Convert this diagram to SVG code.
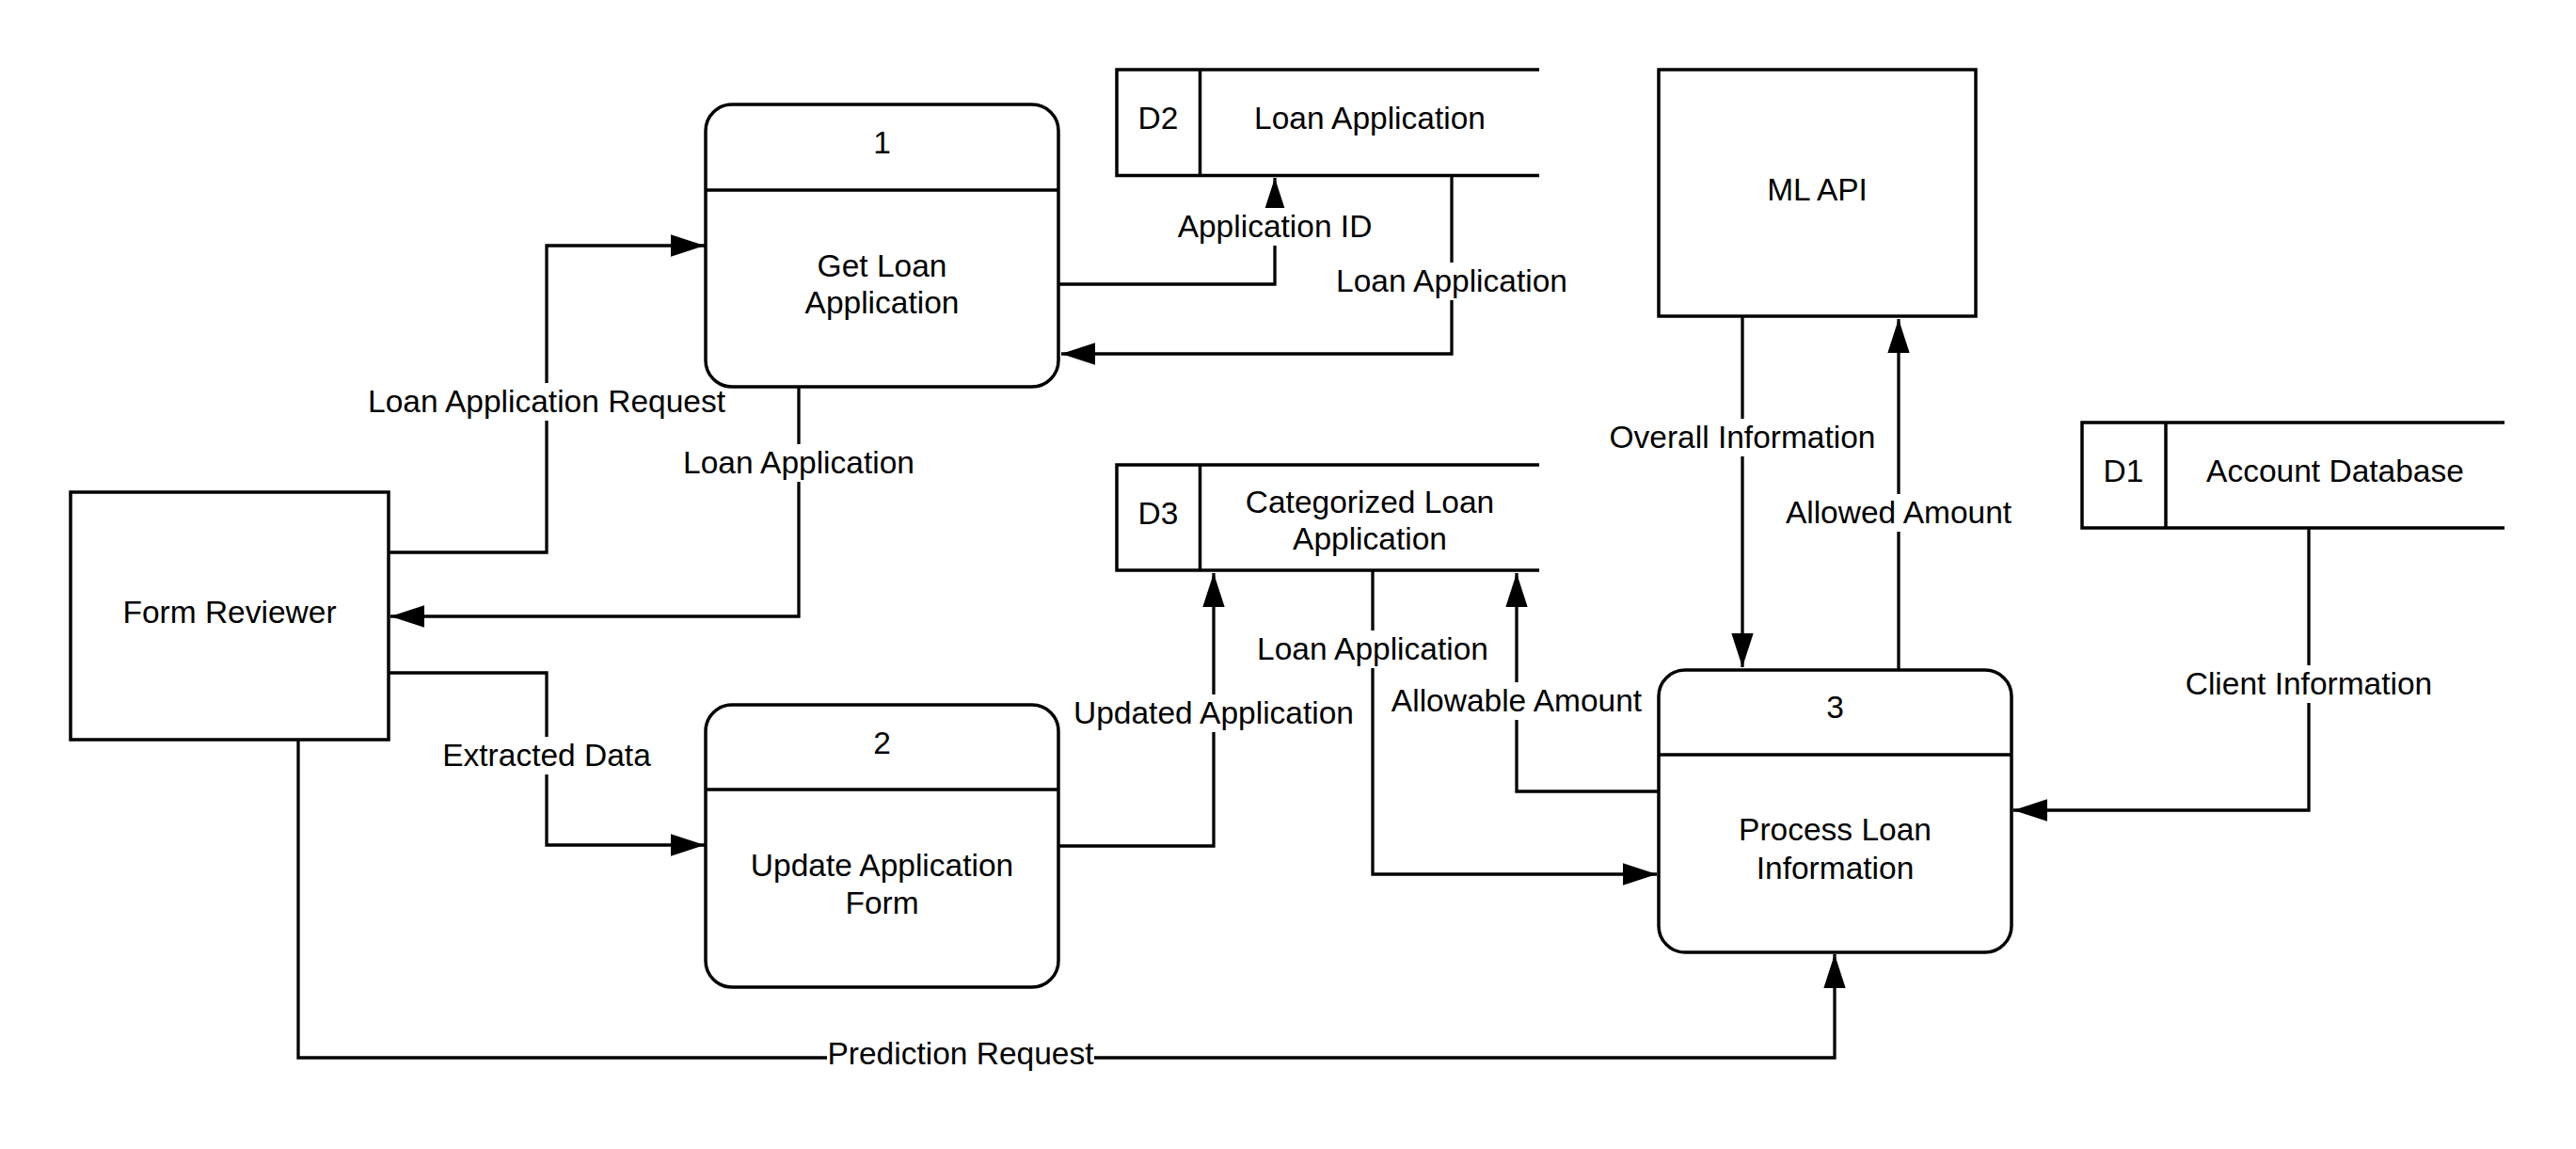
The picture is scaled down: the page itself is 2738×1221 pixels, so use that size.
<svg xmlns="http://www.w3.org/2000/svg" width="2738" height="1221" viewBox="0 0 2738 1221">
<style>
.box{fill:#fff;stroke:#000;stroke-width:3.5}
.ln{fill:none;stroke:#000;stroke-width:3.5}
.c{fill:none;stroke:#000;stroke-width:3.3}
text{font-family:"Liberation Sans",Arial,sans-serif;font-size:33.5px;fill:#000;text-anchor:middle}
.bg{fill:#fff;stroke:none}
</style>
<defs>
<marker id="arr" markerUnits="userSpaceOnUse" markerWidth="36" markerHeight="24" viewBox="0 0 34 22" refX="34" refY="11" orient="auto">
<path d="M0,0 L34,11 L0,22 Z" fill="#000"/>
</marker>
</defs>
<rect width="2738" height="1221" fill="#fff"/>

<g id="connectors">
<path class="c" d="M413 587 H581 V261 H749" marker-end="url(#arr)"/>
<path class="c" d="M849 411 V655 H415" marker-end="url(#arr)"/>
<path class="c" d="M1125 302 H1355 V189" marker-end="url(#arr)"/>
<path class="c" d="M1543 186 V376 H1128" marker-end="url(#arr)"/>
<path class="c" d="M1852 336 V709" marker-end="url(#arr)"/>
<path class="c" d="M2018 712 V339" marker-end="url(#arr)"/>
<path class="c" d="M2454 561 V861 H2140" marker-end="url(#arr)"/>
<path class="c" d="M413 715 H581 V898 H749" marker-end="url(#arr)"/>
<path class="c" d="M1125 899 H1290 V609" marker-end="url(#arr)"/>
<path class="c" d="M1459 606 V929 H1761" marker-end="url(#arr)"/>
<path class="c" d="M1763 841 H1612 V609" marker-end="url(#arr)"/>
<path class="c" d="M317 786 V1124 H1950 V1014" marker-end="url(#arr)"/>

<rect class="bg" x="389" y="407" width="384" height="40"/>
<text x="581" y="437.5">Loan Application Request</text>
<rect class="bg" x="724" y="472" width="250" height="40"/>
<text x="849" y="502.5">Loan Application</text>
<rect class="bg" x="1251" y="221" width="208" height="40"/>
<text x="1355" y="251.5">Application ID</text>
<rect class="bg" x="1418" y="279" width="250" height="40"/>
<text x="1543" y="309.5">Loan Application</text>
<rect class="bg" x="1710" y="445" width="284" height="40"/>
<text x="1852" y="475.5">Overall Information</text>
<rect class="bg" x="1896" y="525" width="244" height="40"/>
<text x="2018" y="555.5">Allowed Amount</text>
<rect class="bg" x="2322" y="707" width="264" height="40"/>
<text x="2454" y="737.5">Client Information</text>
<rect class="bg" x="1140" y="738" width="300" height="40"/>
<text x="1290" y="768.5">Updated Application</text>
<rect class="bg" x="1334" y="670" width="250" height="40"/>
<text x="1459" y="700.5">Loan Application</text>
<rect class="bg" x="1478" y="725" width="268" height="40"/>
<text x="1612" y="755.5">Allowable Amount</text>
<rect class="bg" x="470" y="783" width="222" height="40"/>
<text x="581" y="813.5">Extracted Data</text>
<rect class="bg" x="879" y="1100" width="284" height="40"/>
<text x="1021" y="1130.5">Prediction Request</text>
</g>

<g id="form-reviewer">
<rect class="box" x="75" y="523" width="338" height="263"/>
<text x="244" y="661.5">Form Reviewer</text>
</g>

<g id="process-1">
<rect class="box" x="750" y="111" width="375" height="300" rx="28"/>
<line class="ln" x1="750" y1="202" x2="1125" y2="202"/>
<text x="937.5" y="162.5">1</text>
<text x="937.5" y="293.5">Get Loan</text>
<text x="937.5" y="332.5">Application</text>
</g>

<g id="process-2">
<rect class="box" x="750" y="749" width="375" height="300" rx="28"/>
<line class="ln" x1="750" y1="839" x2="1125" y2="839"/>
<text x="937.5" y="800.5">2</text>
<text x="937.5" y="930.5">Update Application</text>
<text x="937.5" y="970.5">Form</text>
</g>

<g id="process-3">
<rect class="box" x="1763" y="712" width="375" height="300" rx="28"/>
<line class="ln" x1="1763" y1="802" x2="2138" y2="802"/>
<text x="1950.5" y="762.5">3</text>
<text x="1950.5" y="892.5">Process Loan</text>
<text x="1950.5" y="933.5">Information</text>
</g>

<g id="ml-api">
<rect class="box" x="1763" y="74" width="337" height="262"/>
<text x="1931.5" y="212.5">ML API</text>
</g>

<g id="store-d2">
<path class="ln" d="M1636 74 H1187 V186.5 H1636 M1275.5 74 V186.5"/>
<text x="1231" y="136.5">D2</text>
<text x="1456" y="136.5">Loan Application</text>
</g>

<g id="store-d3">
<path class="ln" d="M1636 494 H1187 V606 H1636 M1275.5 494 V606"/>
<text x="1231" y="556.5">D3</text>
<text x="1456" y="544.5">Categorized Loan</text>
<text x="1456" y="583.5">Application</text>
</g>

<g id="store-d1">
<path class="ln" d="M2662 449 H2213 V561 H2662 M2302 449 V561"/>
<text x="2257" y="511.5">D1</text>
<text x="2482" y="511.5">Account Database</text>
</g>
</svg>
